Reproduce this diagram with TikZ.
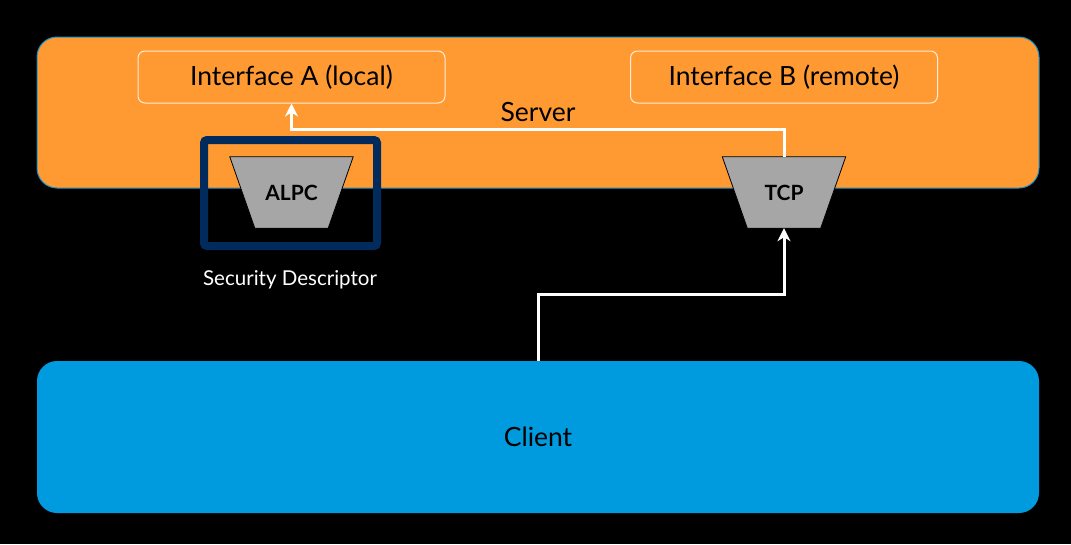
\documentclass[tikz,border=0pt]{standalone}
\usepackage{fontspec}
\setmainfont{Lato}
\usetikzlibrary{arrows.meta,calc}
\definecolor{srvorange}{HTML}{FF9A33}
\definecolor{srvedge}{HTML}{1A8FC8}
\definecolor{cliblue}{HTML}{009ADE}
\definecolor{sdnavy}{HTML}{002B5C}
\definecolor{trapgray}{HTML}{A6A6A6}
\begin{document}
\begin{tikzpicture}[x=1pt,y=-1pt,
  bigbox/.style={rectangle,rounded corners=20pt,minimum width=1002pt,inner sep=0pt,font=\fontsize{26.5}{30}\selectfont,text=black},
  iface/.style={rectangle,rounded corners=7pt,draw=white!80!srvorange,line width=1pt,minimum width=307pt,minimum height=52pt,inner sep=0pt,font=\fontsize{26.5}{30}\selectfont,text=black},
  trapnode/.style={rectangle,minimum width=73pt,minimum height=71pt,inner sep=0pt,font=\bfseries\fontsize{21}{24}\selectfont,text=black},
  trapshape/.style={fill=trapgray,draw=black,line width=0.8pt},
  arr/.style={draw=white,line width=3pt,-{Stealth[length=13pt,width=13pt,inset=4pt]}},
]
\fill[black] (0,0) rectangle (1071,544);
\node[bigbox,fill=srvorange,draw=srvedge,line width=1pt,minimum height=151pt] (server) at (538,112.5) {Server};
\node[bigbox,fill=cliblue,minimum height=152pt] (client) at (538,437) {Client};
\node[iface] (ifa) at (291.5,77) {Interface A (local)};
\node[iface] (ifb) at (784,77) {Interface B (remote)};
\node[rectangle,draw=sdnavy,line width=8pt,rounded corners=3pt,minimum width=173pt,minimum height=106pt,inner sep=0pt] (sd) at (290.5,193) {};
\node[trapnode] (alpc) at (291.5,192.5) {};
\fill[trapshape] (alpc.south west) -- (alpc.south east) -- ([xshift=25pt]alpc.north east) -- ([xshift=-25pt]alpc.north west) -- cycle;
\node[trapnode] at (alpc.center) {ALPC};
\node[trapnode] (tcp) at (784,192.5) {};
\fill[trapshape] (tcp.south west) -- (tcp.south east) -- ([xshift=25pt]tcp.north east) -- ([xshift=-25pt]tcp.north west) -- cycle;
\node[trapnode] at (tcp.center) {TCP};
\node[text=white,font=\fontsize{20.5}{24}\selectfont] (sdlabel) at (290,280) {Security Descriptor};
\draw[arr] (tcp.north) -- ++(0,-27) -| (ifa.south);
\draw[arr] (client.north) -- ++(0,-66) -| (tcp.south);
\end{tikzpicture}
\end{document}
